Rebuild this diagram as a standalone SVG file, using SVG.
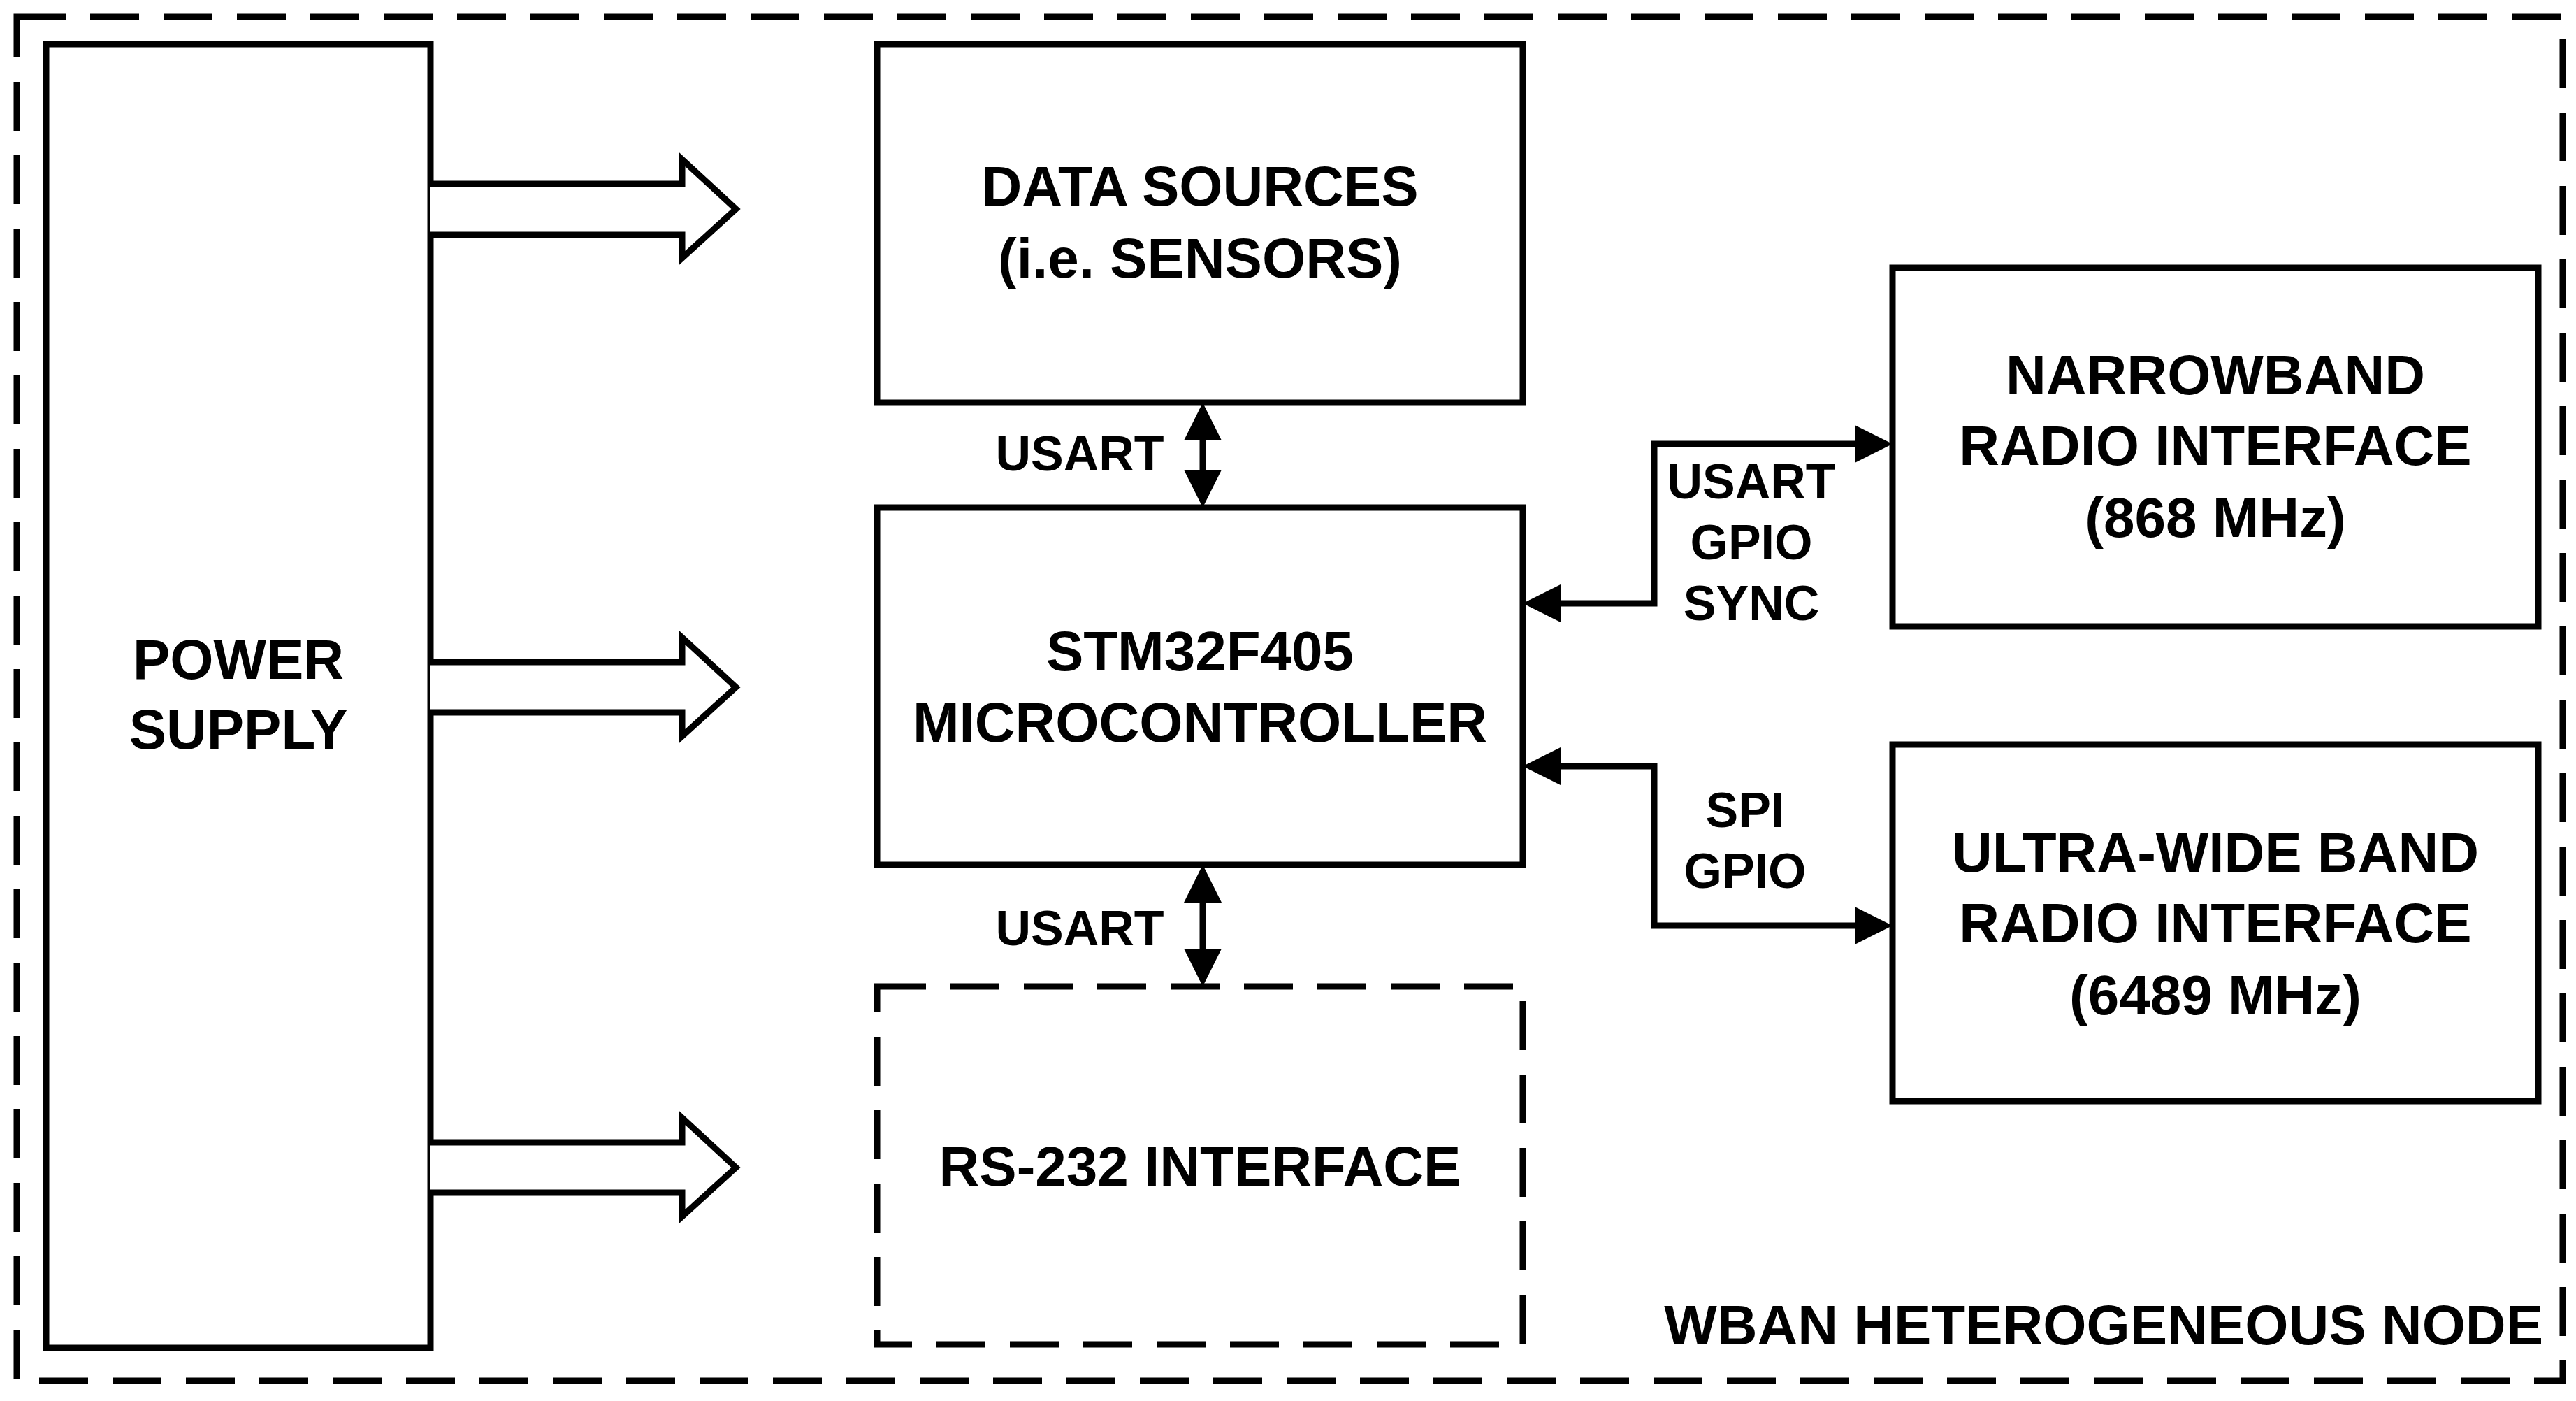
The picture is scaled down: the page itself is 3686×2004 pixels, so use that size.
<svg xmlns="http://www.w3.org/2000/svg" width="3686" height="2004" viewBox="0 0 3686 2004">
<style>
.b{fill:#fff;stroke:#000;stroke-width:9}
.d{fill:none;stroke:#000;stroke-width:9;stroke-dasharray:70 35}
.t{font-family:"Liberation Sans",Arial,sans-serif;font-weight:bold;font-size:80px;text-anchor:middle;dominant-baseline:central}
.s{font-size:70px}
.c{fill:none;stroke:#000;stroke-width:9}
.h{fill:#fff;stroke:#000;stroke-width:9;stroke-linejoin:miter}
</style>
<defs>
<marker id="a" markerWidth="6" markerHeight="6" refX="5" refY="3" orient="auto-start-reverse" markerUnits="strokeWidth"><path d="M0,0 L6,3 L0,6 Z" fill="#000"/></marker>
</defs>
<rect width="3686" height="2004" fill="#fff"/>
<rect id="border" class="d" x="24" y="24" width="3643" height="1951"/>
<text class="t" x="3639" y="1895" text-anchor="end" style="text-anchor:end">WBAN HETEROGENEOUS NODE</text>
<g id="power"><rect class="b" x="66" y="63" width="550" height="1865"/><text class="t" x="341" y="943">POWER</text><text class="t" x="341" y="1043">SUPPLY</text></g>
<g id="data"><rect class="b" x="1255" y="63" width="924" height="513"/><text class="t" x="1717" y="266">DATA SOURCES</text><text class="t" x="1717" y="369">(i.e. SENSORS)</text></g>
<g id="mcu"><rect class="b" x="1255" y="726" width="924" height="511"/><text class="t" x="1717" y="931">STM32F405</text><text class="t" x="1717" y="1033">MICROCONTROLLER</text></g>
<g id="rs232"><rect class="d" x="1255" y="1411" width="924" height="512"/><text class="t" x="1717" y="1668">RS-232 INTERFACE</text></g>
<g id="nb"><rect class="b" x="2708" y="383" width="924" height="513"/><text class="t" x="3170" y="536">NARROWBAND</text><text class="t" x="3170" y="637">RADIO INTERFACE</text><text class="t" x="3170" y="740">(868 MHz)</text></g>
<g id="uwb"><rect class="b" x="2708" y="1065" width="924" height="510"/><text class="t" x="3170" y="1219">ULTRA-WIDE BAND</text><text class="t" x="3170" y="1320">RADIO INTERFACE</text><text class="t" x="3170" y="1423">(6489 MHz)</text></g>
<g id="connectors">
<path class="h" d="M616,263 H976 V228 L1053,299 L976,369 V336 H616"/>
<path class="h" d="M616,947 H976 V912 L1053,983 L976,1053 V1019 H616"/>
<path class="h" d="M616,1634 H976 V1599 L1053,1670 L976,1740 V1706 H616"/>
<path class="c" d="M1721,585 V717" marker-start="url(#a)" marker-end="url(#a)"/>
<path class="c" d="M1721,1246 V1402" marker-start="url(#a)" marker-end="url(#a)"/>
<path class="c" d="M2188,863 H2367 V635 H2699" marker-start="url(#a)" marker-end="url(#a)"/>
<path class="c" d="M2188,1096 H2367 V1324 H2699" marker-start="url(#a)" marker-end="url(#a)"/>
<text class="t s" x="1545" y="649">USART</text>
<text class="t s" x="1545" y="1328">USART</text>
<text class="t s" x="2506" y="689">USART</text>
<text class="t s" x="2506" y="776">GPIO</text>
<text class="t s" x="2506" y="863">SYNC</text>
<text class="t s" x="2497" y="1159">SPI</text>
<text class="t s" x="2497" y="1246">GPIO</text>
</g>
</svg>
